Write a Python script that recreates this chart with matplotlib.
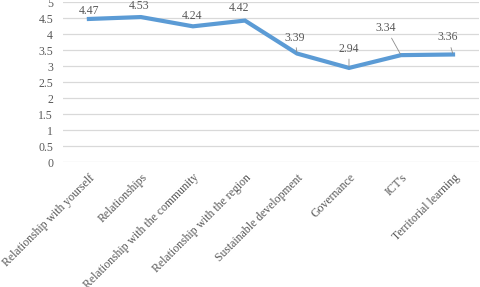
import matplotlib
matplotlib.use('Agg')
import matplotlib.pyplot as plt

categories = ['Relationship with yourself', 'Relationships', 'Relationship with the community',
              'Relationship with the region', 'Sustainable development', 'Governance',
              "ICT's", 'Territorial learning']
values = [4.47, 4.53, 4.24, 4.42, 3.39, 2.94, 3.34, 3.36]
# label offsets in pixels (dx, dy) and whether a leader line is drawn
label_offsets = [(0, 8), (-2, 11), (-1, 10), (-6, 13), (-2, 16), (0, 19), (-15, 27), (-5, 17)]
leaders = [False, False, False, False, True, True, True, True]

plt.rcParams['font.family'] = ['Liberation Serif', 'DejaVu Serif']
txt_color = '#595959'
fs = 8.5

fig = plt.figure(figsize=(4.8, 2.87), dpi=100)
ax = fig.add_axes([0.131, 0.4355, 0.867, 0.5575])

x = list(range(len(categories)))
ax.plot(x, values, color='#5B9BD5', linewidth=3, solid_joinstyle='miter', zorder=3)

for xi, v, (dx, dy), lead in zip(x, values, label_offsets, leaders):
    if lead:
        ax.annotate('%.2f' % v, xy=(xi, v), xytext=(dx, dy), textcoords='offset pixels',
                    ha='center', va='center', fontsize=fs, color=txt_color,
                    arrowprops=dict(arrowstyle='-', color='#8c8c8c', lw=0.6,
                                    shrinkA=1, shrinkB=1))
    else:
        ax.annotate('%.2f' % v, xy=(xi, v), xytext=(dx, dy), textcoords='offset pixels',
                    ha='center', va='center', fontsize=fs, color=txt_color)

ax.set_xlim(-0.5, len(categories) - 0.5)
ax.set_ylim(0, 5)
ax.set_yticks([i * 0.5 for i in range(11)])
ax.set_yticklabels(['0', '0.5', '1', '1.5', '2', '2.5', '3', '3.5', '4', '4.5', '5'])
ax.set_xticks(x)
ax.set_xticklabels(categories, rotation=45, ha='right', va='top', rotation_mode='anchor')

ax.tick_params(axis='both', length=0, labelsize=fs, colors=txt_color)
ax.tick_params(axis='y', pad=7)
ax.tick_params(axis='x', pad=7)
ax.grid(axis='y', color='#d9d9d9', linewidth=0.9)
ax.set_axisbelow(True)
for s in ax.spines.values():
    s.set_visible(False)

fig.savefig('out.png', dpi=100)
